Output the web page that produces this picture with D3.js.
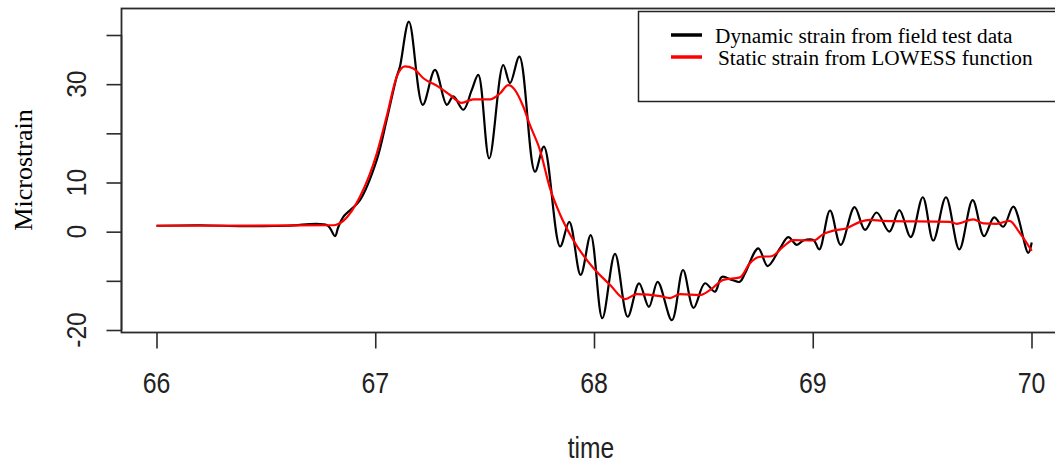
<!DOCTYPE html>
<html>
<head>
<meta charset="utf-8">
<script src="https://cdn.jsdelivr.net/npm/d3@7"></script>
<style>
  html, body { margin: 0; padding: 0; background: #fff; }
  svg { display: block; }
</style>
</head>
<body>
<svg id="chart" width="1055" height="466"></svg>
<script>
// ---- data ----
const dynamicTime = [66.000, 66.200, 66.400, 66.600, 66.780, 66.816, 66.830, 66.854, 66.930, 67.007,
  67.052, 67.098, 67.113, 67.154, 67.217, 67.273, 67.327, 67.357, 67.403, 67.441,
  67.471, 67.521, 67.585, 67.616, 67.659, 67.730, 67.771, 67.845, 67.887, 67.939,
  67.985, 68.038, 68.096, 68.154, 68.206, 68.251, 68.291, 68.356, 68.407, 68.455,
  68.507, 68.553, 68.584, 68.630, 68.667, 68.690, 68.751, 68.794, 68.850, 68.888,
  68.927, 68.957, 69.003, 69.030, 69.079, 69.128, 69.191, 69.239, 69.292, 69.350,
  69.396, 69.448, 69.503, 69.551, 69.609, 69.670, 69.731, 69.783, 69.829, 69.871,
  69.917, 69.985, 70.001];
const dynamicStrain = [1.2, 1.3, 1.1, 1.2, 1.3, -0.9, 0.8, 3.0, 6.4, 14.6,
  22.7, 31.5, 33.6, 42.7, 25.8, 32.9, 25.8, 27.5, 24.8, 28.8,
  31.9, 14.9, 33.9, 30.2, 35.6, 12.2, 17.3, -3.0, 2.0, -8.8,
  -0.7, -17.6, -4.5, -17.3, -10.5, -15.3, -10.2, -18.0, -7.8, -15.5,
  -10.5, -12.2, -9.2, -9.8, -10.2, -8.5, -3.4, -7.0, -3.4, -1.1,
  -2.7, -1.8, -1.7, -3.6, 4.3, -2.7, 5.0, 0.35, 3.9, 0.0,
  4.4, -1.1, 7.0, -1.8, 7.0, -3.6, 6.4, -0.9, 2.9, 1.0,
  5.1, -4.3, -2.2];

const staticTime = [66.000, 66.807, 66.854, 66.930, 67.007, 67.052, 67.098, 67.136, 67.174, 67.220,
  67.288, 67.342, 67.395, 67.448, 67.525, 67.570, 67.608, 67.639, 67.677, 67.707,
  67.753, 67.799, 67.845, 67.905, 67.997, 68.073, 68.142, 68.195, 68.302, 68.347,
  68.393, 68.484, 68.530, 68.591, 68.667, 68.713, 68.759, 68.812, 68.865, 68.911,
  69.003, 69.048, 69.094, 69.155, 69.216, 69.262, 69.322, 69.627, 69.658, 69.734,
  69.780, 69.841, 69.899, 69.947, 70.001];
const staticStrain = [1.2, 1.3, 2.2, 7.1, 15.9, 23.4, 31.5, 33.6, 33.2, 31.2,
  29.5, 27.8, 26.2, 26.9, 26.9, 28.1, 29.8, 28.8, 25.4, 21.7,
  16.6, 8.8, 3.5, -1.7, -7.4, -10.8, -13.7, -12.7, -13.1, -13.5,
  -12.7, -12.9, -11.9, -9.8, -9.3, -6.4, -5.1, -5.0, -3.05, -1.7,
  -1.8, -0.5, 0.2, 0.7, 2.0, 2.4, 2.2, 2.0, 1.6, 2.5,
  1.7, 1.6, 2.2, -0.3, -3.9];

const xTicks = [66, 67, 68, 69, 70];
const yTicks = [-20, -10, 0, 10, 20, 30, 40];
const yTickLabels = [-20, 0, 10, 30];
const seriesNames = ["Dynamic strain from field test data", "Static strain from LOWESS function"];
const seriesColors = ["#000000", "#ff0000"];
const xTitle = "time";
const yTitle = "Microstrain";

// ---- layout ----
const svg = d3.select("#chart");
const x = d3.scaleLinear().domain([66, 70]).range([156.5, 1031.5]);
const y = d3.scaleLinear().domain([-20, 40]).range([330, 35]);
const box = { left: 121.5, right: 1066, top: 8.5, bottom: 332.5 };
const axisColor = "#2b2b2b";

// plot box
svg.append("rect")
  .attr("x", box.left).attr("y", box.top)
  .attr("width", box.right - box.left).attr("height", box.bottom - box.top)
  .attr("fill", "none").attr("stroke", axisColor).attr("stroke-width", 1.8);

// x axis (R style)
const xAxis = svg.append("g").attr("transform", `translate(0,${box.bottom})`)
  .call(d3.axisBottom(x).tickValues(xTicks).tickSize(16).tickFormat(""));
xAxis.select(".domain").remove();
xAxis.selectAll(".tick line").attr("stroke", axisColor).attr("stroke-width", 1.6);

svg.append("g").selectAll("text").data(xTicks).join("text")
  .attr("transform", d => `translate(${x(d)},393) scale(0.83,1)`)
  .attr("text-anchor", "middle")
  .attr("font-family", "'Liberation Sans', Arial, sans-serif")
  .attr("font-size", 30)
  .attr("fill", "#222")
  .text(d => d);

// y axis
const yAxis = svg.append("g").attr("transform", `translate(${box.left},0)`)
  .call(d3.axisLeft(y).tickValues(yTicks).tickSize(15).tickFormat(""));
yAxis.select(".domain").attr("stroke", axisColor).attr("stroke-width", 1.6)
  .attr("d", `M0,${y(40)}V${y(-20)}`);
yAxis.selectAll(".tick line").attr("stroke", axisColor).attr("stroke-width", 1.6);

svg.append("g").selectAll("text").data(yTickLabels).join("text")
  .attr("transform", d => `translate(85.5,${y(d)}) rotate(-90) scale(0.88,1)`)
  .attr("text-anchor", "middle")
  .attr("font-family", "'Liberation Sans', Arial, sans-serif")
  .attr("font-size", 28)
  .attr("fill", "#222")
  .text(d => d);

// axis titles
svg.append("text")
  .attr("transform", `translate(591,458) scale(0.82,1)`)
  .attr("text-anchor", "middle")
  .attr("font-family", "'Liberation Sans', Arial, sans-serif")
  .attr("font-size", 30)
  .attr("fill", "#222")
  .text(xTitle);

svg.append("text")
  .attr("transform", `translate(32,170) rotate(-90)`)
  .attr("text-anchor", "middle")
  .attr("font-family", "'Liberation Serif', 'Times New Roman', serif")
  .attr("font-size", 26)
  .attr("fill", "#000")
  .text(yTitle);

// series
const dyn = dynamicTime.map((t, i) => [t, dynamicStrain[i]]);
const sta = staticTime.map((t, i) => [t, staticStrain[i]]);

svg.append("clipPath").attr("id", "plotclip").append("rect")
  .attr("x", box.left).attr("y", box.top).attr("width", box.right - box.left).attr("height", box.bottom - box.top);

svg.append("path").datum(dyn)
  .attr("clip-path", "url(#plotclip)")
  .attr("d", d3.line().x(d => x(d[0])).y(d => y(d[1])).curve(d3.curveCatmullRom.alpha(0.5)))
  .attr("fill", "none").attr("stroke", seriesColors[0]).attr("stroke-width", 2.2)
  .attr("stroke-linejoin", "round");

svg.append("path").datum(sta)
  .attr("clip-path", "url(#plotclip)")
  .attr("d", d3.line().x(d => x(d[0])).y(d => y(d[1])).curve(d3.curveMonotoneX))
  .attr("fill", "none").attr("stroke", seriesColors[1]).attr("stroke-width", 2.2)
  .attr("stroke-linejoin", "round");

// legend
const lg = svg.append("g");
lg.append("rect")
  .attr("x", 638.5).attr("y", 11.5).attr("width", 430).attr("height", 90)
  .attr("fill", "#fff").attr("stroke", "#222").attr("stroke-width", 1.5);
const rowsY = [35, 57];
const textX = [715, 718];
seriesNames.forEach((name, i) => {
  lg.append("line")
    .attr("x1", 671).attr("x2", 702).attr("y1", rowsY[i]).attr("y2", rowsY[i])
    .attr("stroke", seriesColors[i]).attr("stroke-width", 3.5);
  lg.append("text")
    .attr("x", textX[i]).attr("y", rowsY[i] + 8)
    .attr("font-family", "'Liberation Serif', 'Times New Roman', serif")
    .attr("font-size", 21.3)
    .attr("fill", "#000")
    .text(name);
});
</script>
</body>
</html>
